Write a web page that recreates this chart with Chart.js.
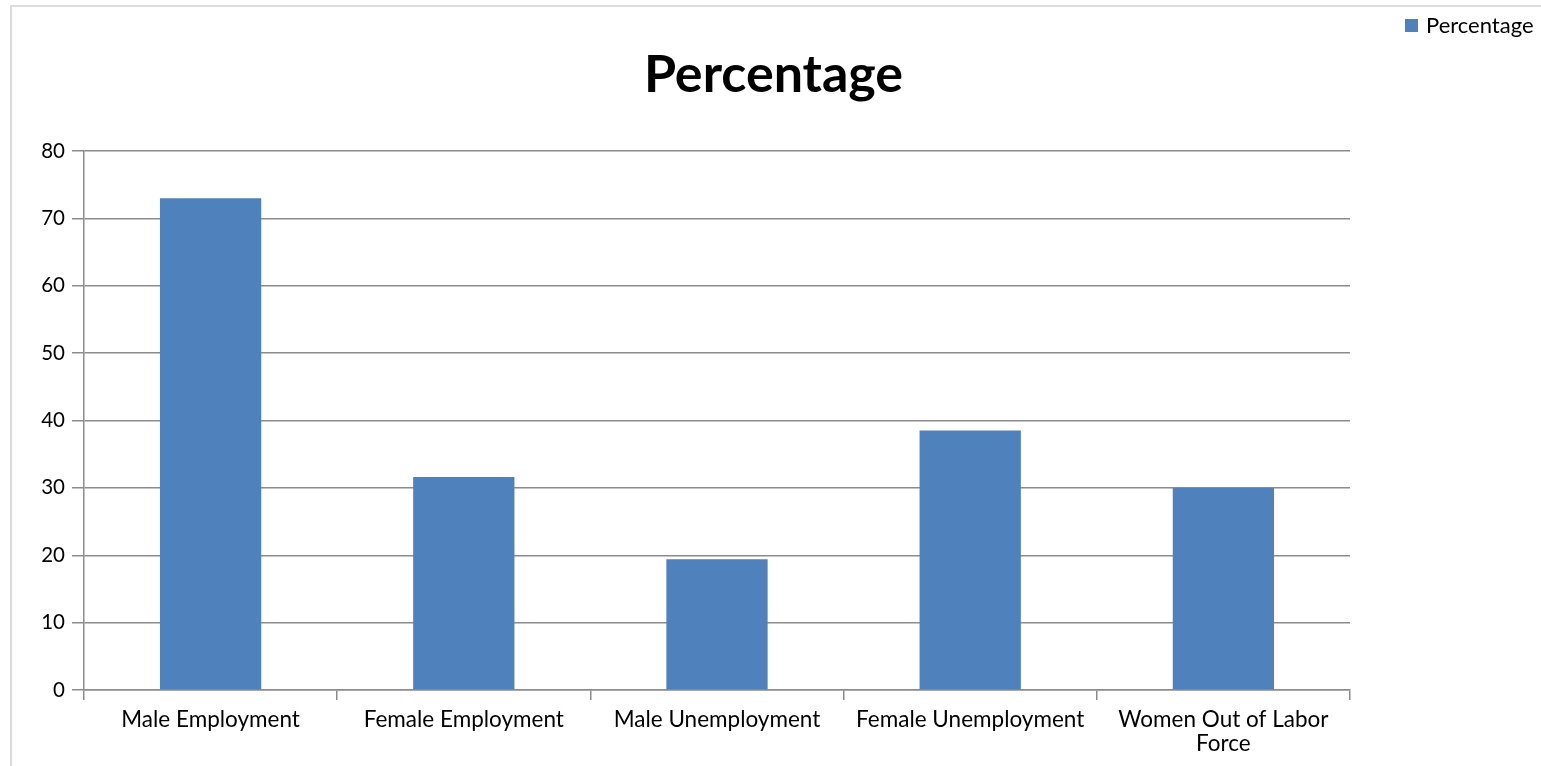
<!DOCTYPE html>
<html>
<head>
<meta charset="utf-8">
<script src="https://cdn.jsdelivr.net/npm/chart.js@4"></script>
<style>
  html, body { margin: 0; padding: 0; background: #fff; overflow: hidden; }
  #wrap { position: relative; width: 1541px; height: 766px; }
  #frame { position: absolute; left: 10px; top: 5px; width: 1560px; height: 800px;
           border-left: 2px solid #dcdcdc; border-top: 2px solid #dcdcdc; }
  canvas { position: absolute; left: 0; top: 0; }
  #legend { position: absolute; left: 1405px; top: 11px; font-family: Lato, sans-serif;
            font-size: 22px; line-height: 28px; color: #000; display: flex; align-items: center; white-space: nowrap; }
  #legend span.box { display: inline-block; width: 13px; height: 13px; background: #4F81BD; margin-right: 8px; }
</style>
</head>
<body>
<div id="wrap">
  <div id="frame"></div>
  <canvas id="c" width="1541" height="766"></canvas>
  <div id="legend"><span class="box"></span><span id="legendText"></span></div>
</div>
<script>
const chartTitle = "Percentage";
const seriesName = "Percentage";
const categories = ["Male Employment", "Female Employment", "Male Unemployment", "Female Unemployment", ["Women Out of Labor", "Force"]];
const percentValues = [73.0, 31.6, 19.4, 38.5, 30.0];
const yTickMin = 0;
const yTickMax = 80;
const yTickStep = 10;

document.getElementById('legendText').textContent = seriesName;

const gridColor = '#8c8c8c';
const ctx = document.getElementById('c').getContext('2d');
new Chart(ctx, {
  type: 'bar',
  data: {
    labels: categories,
    datasets: [{
      label: seriesName,
      data: percentValues,
      backgroundColor: '#4F81BD',
      borderWidth: 0,
      barPercentage: 0.4,
      categoryPercentage: 1.0
    }]
  },
  options: {
    responsive: false,
    animation: false,
    layout: { padding: { left: 6, right: 0, top: 0, bottom: 0 } },
    plugins: {
      legend: { display: false },
      tooltip: { enabled: false },
      title: {
        display: true,
        text: chartTitle,
        color: '#000',
        font: { family: 'Lato', size: 52, weight: 'bold', lineHeight: 1.2 },
        padding: { top: 44, bottom: 44.6 }
      }
    },
    scales: {
      x: {
        offset: true,
        grid: { display: true, drawOnChartArea: false, drawTicks: true, tickLength: 10, color: gridColor, lineWidth: 1.5, offset: true },
        border: { display: true, color: gridColor, width: 1.5 },
        ticks: { color: '#000', font: { family: 'Lato', size: 22.5, lineHeight: 1.067 }, padding: 8, maxRotation: 0, autoSkip: false },
        afterFit: (s) => { s.height = 76; }
      },
      y: {
        min: yTickMin,
        max: yTickMax,
        grid: { color: gridColor, lineWidth: 1.5, tickLength: 12, drawTicks: true },
        border: { display: true, color: gridColor, width: 1.5 },
        ticks: { stepSize: yTickStep, color: '#000', font: { family: 'Lato', size: 20.5 }, padding: 7 },
        afterFit: (s) => { s.width = 78; }
      },
      yRight: {
        type: 'linear',
        position: 'right',
        display: true,
        grid: { display: false, drawTicks: false },
        border: { display: false },
        ticks: { display: false },
        afterFit: (s) => { s.width = 191; }
      }
    }
  }
});
</script>
</body>
</html>
